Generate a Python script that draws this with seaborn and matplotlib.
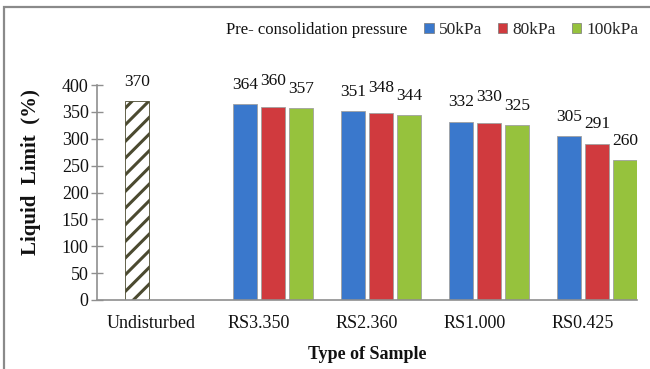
import numpy as np
import pandas as pd
import matplotlib
matplotlib.use("Agg")
import matplotlib.pyplot as plt
from matplotlib.patches import Patch, Rectangle
import seaborn as sns

# Liquid limit (%) of the undisturbed soil and of the remoulded samples
samples = ["Undisturbed", "RS3.350", "RS2.360", "RS1.000", "RS0.425"]
pressures = ["50kPa", "80kPa", "100kPa"]
undisturbed_ll = [370]
ll_50kpa = [364, 351, 332, 305]
ll_80kpa = [360, 348, 330, 291]
ll_100kpa = [357, 344, 325, 260]
y_ticks = [0, 50, 100, 150, 200, 250, 300, 350, 400]

sns.set_theme(style="white")
plt.rcParams["font.family"] = ["Liberation Serif", "DejaVu Serif"]
plt.rcParams["hatch.linewidth"] = 2.2
plt.rcParams["hatch.color"] = "#4b4a30"

remoulded = pd.DataFrame({
    "sample": np.repeat(samples[1:], len(pressures)),
    "pressure": pressures * len(samples[1:]),
    "ll": [v for trio in zip(ll_50kpa, ll_80kpa, ll_100kpa) for v in trio],
})
undisturbed = pd.DataFrame({
    "sample": samples[:1],
    "pressure": ["Undisturbed"],
    "ll": undisturbed_ll,
})

colors = {"50kPa": "#3a78cc", "80kPa": "#d03a3e", "100kPa": "#96c23d"}
axis_grey = "#8f8f8f"
hatch_ink = "#4b4a30"

fig = plt.figure(figsize=(6.5, 3.69), dpi=100)
ax = fig.add_axes([97 / 650, 69 / 369, 540 / 650, 215 / 369])

# four bar slots per sample; the first slot is left empty
sns.barplot(
    data=remoulded, x="sample", y="ll", hue="pressure", order=samples,
    hue_order=["_blank"] + pressures,
    palette={"_blank": "white", **colors}, saturation=1,
    width=1.04, gap=0.14, dodge=True, errorbar=None, legend=False,
    edgecolor="#a0a0a0", linewidth=0.6, ax=ax,
)

sns.barplot(
    data=undisturbed, x="sample", y="ll", hue="pressure", order=samples,
    hue_order=["_blank", "Undisturbed", "_b2", "_b3"],
    palette={"_blank": "white", "Undisturbed": "white", "_b2": "white", "_b3": "white"},
    saturation=1, width=1.04, gap=0.14, dodge=True, errorbar=None, legend=False,
    edgecolor=hatch_ink, linewidth=0.6, hatch="//", ax=ax,
)
for bar in ax.containers[-1]:
    bar.set_facecolor("white")
    bar.set_hatch("//")
    if hasattr(bar, "set_hatchcolor"):
        bar.set_hatchcolor(hatch_ink)
        bar.set_edgecolor("#b0b0b0")

# value labels above the bars; crowded middle labels are lifted
for bar in [b for c in ax.containers for b in c]:
    h = bar.get_height()
    if np.isnan(h):
        continue
    x = bar.get_x() + bar.get_width() / 2
    pad = 8
    if bar.get_facecolor()[:3] == matplotlib.colors.to_rgb(colors["80kPa"]):
        i = ll_80kpa.index(int(round(h)))
        if abs(ll_50kpa[i] - h) < 10 and abs(ll_100kpa[i] - h) < 10:
            pad = 12.5
    ax.annotate(f"{h:.0f}", (x, h), xytext=(0, pad), textcoords="offset points",
                ha="center", va="bottom", fontsize=12.5, color="#111111")

ax.set_ylim(0, 400)
ax.set_xlim(-0.5, len(samples) - 0.5)
ax.set_yticks(y_ticks)
ax.tick_params(axis="y", direction="inout", length=8, width=1, color=axis_grey,
               labelsize=13, pad=2, left=True)
ax.tick_params(axis="x", length=0, labelsize=13, pad=11)
for lab in ax.get_xticklabels() + ax.get_yticklabels():
    lab.set_color("#111111")
for side in ("top", "right"):
    ax.spines[side].set_visible(False)
for side in ("left", "bottom"):
    ax.spines[side].set_color(axis_grey)
    ax.spines[side].set_linewidth(1.2)

ax.set_xlabel("Type of Sample", fontsize=13, fontweight="bold", color="#111111")
ax.xaxis.set_label_coords(0.5, -0.215)
ax.set_ylabel("Liquid  Limit  (%)", fontsize=15, fontweight="bold", color="#111111")
ax.yaxis.set_label_coords(-0.103, 0.595)

fig.text(226 / 650, 1 - 30 / 369, "Pre- consolidation pressure", fontsize=12,
         va="center", ha="left", color="#111111")
handles = [Patch(facecolor=colors[p], edgecolor="#777777", linewidth=0.5) for p in pressures]
fig.legend(handles, pressures, ncol=3, loc="center left",
           bbox_to_anchor=(424 / 650, 1 - 30 / 369), frameon=False,
           handlelength=0.55, handleheight=0.55, handletextpad=0.3,
           columnspacing=0.9, fontsize=12.5, borderaxespad=0, borderpad=0)

fig.patches.append(Rectangle((4 / 650, -0.1), 2.0, 1.1 - 7 / 369, transform=fig.transFigure,
                             fill=False, edgecolor="#8a8a8a", linewidth=1.6))

fig.savefig("out.png", dpi=100)
